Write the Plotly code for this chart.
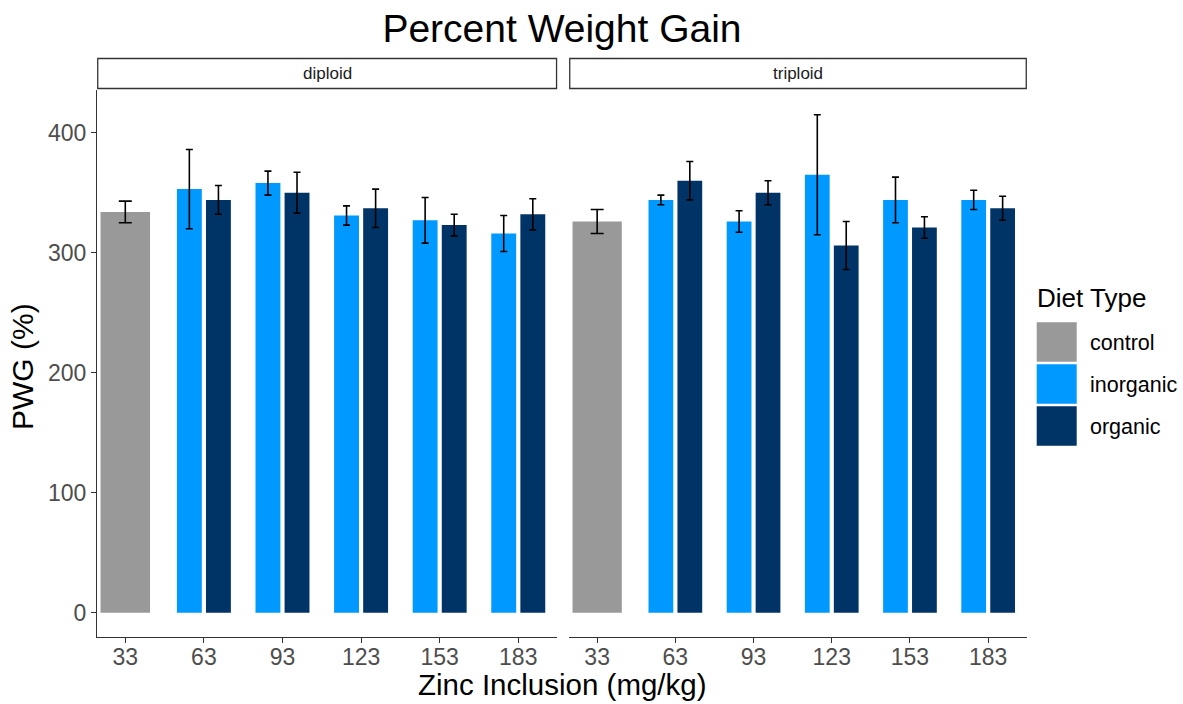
import plotly.graph_objects as go

# Zinc inclusion levels (mg/kg)
control_zinc = [33]
zinc_levels = [63, 93, 123, 153, 183]
tick_vals = [33, 63, 93, 123, 153, 183]
tick_text = ["33", "63", "93", "123", "153", "183"]

# Percent weight gain means and error (± half-range)
diploid_control = [334]
diploid_control_err = [9]
diploid_inorganic = [353, 358, 331, 327, 316]
diploid_inorganic_err = [33, 10, 8, 19, 15]
diploid_organic = [344, 350, 337, 323, 332]
diploid_organic_err = [12, 17, 16, 9, 13]

triploid_control = [326]
triploid_control_err = [10]
triploid_inorganic = [344, 326, 365, 344, 344]
triploid_inorganic_err = [4, 9, 50, 19, 8]
triploid_organic = [360, 350, 306, 321, 337]
triploid_organic_err = [16, 10, 20, 9, 10]

panels = ["diploid", "triploid"]
diet_types = ["control", "inorganic", "organic"]
colors = {"control": "#999999", "inorganic": "#0099FF", "organic": "#003366"}

FONT = "Liberation Sans, Arial, Helvetica, sans-serif"

# bar geometry in x-axis units
control_w = 18.9
dodge_w = 9.5
dodge_gap = 1.6

W, H = 1183, 704
L, R, T, B = 97, 156, 90, 67
plot_w = W - L - R
plot_h = H - T - B


def px_x(x):
    return (x - L) / plot_w


def px_y(y):
    return (H - B - y) / plot_h


fig = go.Figure()

series = {
    "diploid": (diploid_control, diploid_control_err, diploid_inorganic,
                diploid_inorganic_err, diploid_organic, diploid_organic_err),
    "triploid": (triploid_control, triploid_control_err, triploid_inorganic,
                 triploid_inorganic_err, triploid_organic, triploid_organic_err),
}

for i, panel in enumerate(panels):
    xa = "x" if i == 0 else "x2"
    c, ce, ino, inoe, org, orge = series[panel]
    fig.add_trace(go.Bar(
        x=control_zinc, y=c, xaxis=xa, yaxis="y", name="control",
        width=control_w, offset=-control_w / 2,
        marker=dict(color=colors["control"], line=dict(width=0)),
        error_y=dict(type="data", array=ce, color="black", thickness=1.6, width=6.5),
        showlegend=False,
    ))
    fig.add_trace(go.Bar(
        x=zinc_levels, y=ino, xaxis=xa, yaxis="y", name="inorganic",
        width=dodge_w, offset=-(dodge_w + dodge_gap / 2),
        marker=dict(color=colors["inorganic"], line=dict(width=0)),
        error_y=dict(type="data", array=inoe, color="black", thickness=1.6, width=3.5),
        showlegend=False,
    ))
    fig.add_trace(go.Bar(
        x=zinc_levels, y=org, xaxis=xa, yaxis="y", name="organic",
        width=dodge_w, offset=dodge_gap / 2,
        marker=dict(color=colors["organic"], line=dict(width=0)),
        error_y=dict(type="data", array=orge, color="black", thickness=1.6, width=3.5),
        showlegend=False,
    ))

dom1 = [0, px_x(557.3)]
dom2 = [px_x(569), 1]
x_range = [22.2, 197.9]

xaxis_style = dict(
    range=x_range, tickvals=tick_vals, ticktext=tick_text,
    showline=True, linecolor="#333333", linewidth=1.3,
    ticks="outside", ticklen=5, tickcolor="#333333", tickwidth=1.3,
    ticklabelstandoff=-6,
    tickfont=dict(family=FONT, size=23, color="#4d4d4d"),
    showgrid=False, zeroline=False, fixedrange=True,
)

fig.update_layout(
    width=W, height=H,
    margin=dict(l=L, r=R, t=T, b=B),
    paper_bgcolor="white", plot_bgcolor="white",
    barmode="overlay",
    showlegend=False,
    xaxis=dict(domain=dom1, anchor="y", **xaxis_style),
    xaxis2=dict(domain=dom2, anchor="free", position=0, **xaxis_style),
    yaxis=dict(
        range=[-20.3, 435.6], tickvals=[0, 100, 200, 300, 400],
        anchor="x", showline=True, linecolor="#333333", linewidth=1.3,
        ticks="outside", ticklen=5, tickcolor="#333333", tickwidth=1.3,
        tickfont=dict(family=FONT, size=23, color="#4d4d4d"),
        showgrid=False, zeroline=False,
    ),
    title=dict(
        text="Percent Weight Gain", x=px_x(562), xref="paper", xanchor="center",
        y=1 - 28 / H, yanchor="middle",
        font=dict(family=FONT, size=39, color="black"),
    ),
    font=dict(family=FONT),
)

# facet strips
for panel, dom in zip(panels, [dom1, dom2]):
    fig.add_shape(type="rect", xref="paper", yref="paper",
                  x0=dom[0] + 0.0008, x1=dom[1] - 0.0008,
                  y0=px_y(88.5), y1=px_y(58.5),
                  line=dict(color="#333333", width=1.3), fillcolor="white")
    fig.add_annotation(text=panel, xref="paper", yref="paper",
                       x=(dom[0] + dom[1]) / 2, y=px_y(73.5),
                       xanchor="center", yanchor="middle", showarrow=False,
                       font=dict(family=FONT, size=17, color="#1a1a1a"))

# axis titles
fig.add_annotation(text="Zinc Inclusion (mg/kg)", xref="paper", yref="paper",
                   x=px_x(562.5), y=px_y(684.5), xanchor="center", yanchor="middle",
                   showarrow=False, font=dict(family=FONT, size=29.5, color="black"))
fig.add_annotation(text="PWG (%)", xref="paper", yref="paper",
                   x=px_x(23), y=px_y(367), xanchor="center", yanchor="middle",
                   textangle=-90, showarrow=False,
                   font=dict(family=FONT, size=30, color="black"))

# legend
fig.add_annotation(text="Diet Type", xref="paper", yref="paper",
                   x=px_x(1035), y=px_y(298), xanchor="left", yanchor="middle",
                   showarrow=False, font=dict(family=FONT, size=26, color="black"))
key_tops = [322.3, 364.3, 406.3]
for diet, top in zip(diet_types, key_tops):
    fig.add_shape(type="rect", xref="paper", yref="paper",
                  x0=px_x(1036.7), x1=px_x(1076.7),
                  y0=px_y(top + 39.5), y1=px_y(top),
                  line=dict(width=0), fillcolor=colors[diet])
    fig.add_annotation(text=diet, xref="paper", yref="paper",
                       x=px_x(1088), y=px_y(top + 21), xanchor="left", yanchor="middle",
                       showarrow=False, font=dict(family=FONT, size=21.5, color="black"))

fig.write_html("out.html")
